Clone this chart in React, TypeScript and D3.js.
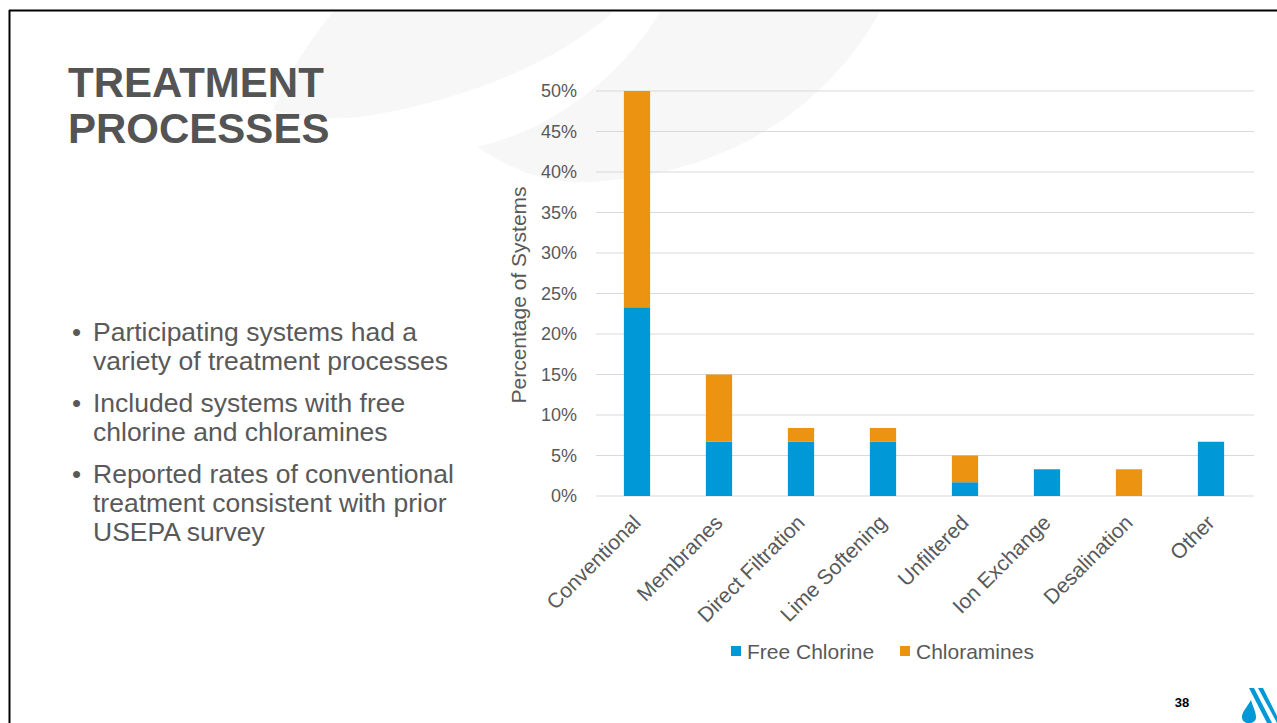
import React from "react";
import * as d3 from "d3";

const categories = [
  "Conventional",
  "Membranes",
  "Direct Filtration",
  "Lime Softening",
  "Unfiltered",
  "Ion Exchange",
  "Desalination",
  "Other",
];
const freeChlorine = [23.3, 6.7, 6.7, 6.7, 1.7, 3.3, 0, 6.7];
const chloramines = [26.7, 8.3, 1.7, 1.7, 3.3, 0, 3.3, 0];
const yTicks = [0, 5, 10, 15, 20, 25, 30, 35, 40, 45, 50];
const seriesNames = ["Free Chlorine", "Chloramines"];
const bullets = [
  ["Participating systems had a", "variety of treatment processes"],
  ["Included systems with free", "chlorine and chloramines"],
  ["Reported rates of conventional", "treatment consistent with prior", "USEPA survey"],
];

const BLUE = "#0098D6";
const ORANGE = "#EC9412";
const TEXT = "#595959";
const FONT = "'Liberation Sans', Arial, sans-serif";

export default function App() {
  const W = 1277;
  const H = 723;
  const x = d3
    .scaleBand<string>()
    .domain(categories)
    .range([596, 1252])
    .paddingInner(0.68)
    .paddingOuter(0.34);
  const y = d3.scaleLinear().domain([0, 50]).range([496, 91]);

  const rows = categories.map((c, i) => ({
    cat: c,
    free: freeChlorine[i],
    chlor: chloramines[i],
  }));
  const stack = d3.stack<any>().keys(["free", "chlor"])(rows);
  const colors = [BLUE, ORANGE];

  const bulletLines: { text: string; y: number; first: boolean }[] = [];
  let yy = 341;
  bullets.forEach((b) => {
    b.forEach((t, j) => {
      bulletLines.push({ text: t, y: yy, first: j === 0 });
      yy += 29;
    });
    yy += 13;
  });

  return (
    <svg
      width={W}
      height={H}
      style={{ position: "absolute", left: 0, top: 0, display: "block" }}
      fontFamily={FONT}
    >
      <rect x={0} y={0} width={W} height={H} fill="#ffffff" />
      {/* background swoosh */}
      <path
        d="M333,12 L613,12 C560,60 470,100 360,117 C330,120 300,118 273,110 C290,70 310,40 333,12 Z"
        fill="#f7f7f7"
      />
      <path
        d="M660,12 L880,12 C830,100 740,172 593,182 C540,185 505,165 477,147 C560,128 625,70 660,12 Z"
        fill="#f7f7f7"
      />
      {/* slide frame */}
      <line x1={9} y1={10.5} x2={W} y2={10.5} stroke="#000" strokeWidth={2} />
      <line x1={9.5} y1={10} x2={9.5} y2={H} stroke="#000" strokeWidth={2} />

      {/* title */}
      <text x={68} y={97} fontSize={42} fontWeight="bold" fill="#545454">
        TREATMENT
      </text>
      <text x={68} y={143} fontSize={42} fontWeight="bold" fill="#545454">
        PROCESSES
      </text>

      {/* bullets */}
      {bulletLines.map((l, i) => (
        <g key={i}>
          {l.first && (
            <text x={72} y={l.y} fontSize={26} fill={TEXT}>
              •
            </text>
          )}
          <text x={93} y={l.y} fontSize={26.5} fill={TEXT}>
            {l.text}
          </text>
        </g>
      ))}

      {/* gridlines */}
      {yTicks.map((t) => (
        <g key={t}>
          <line
            x1={596}
            x2={1254}
            y1={y(t)}
            y2={y(t)}
            stroke="#d9d9d9"
            strokeWidth={1}
          />
          <text
            x={577}
            y={y(t)}
            dy="0.35em"
            textAnchor="end"
            fontSize={18}
            fill={TEXT}
          >
            {t}%
          </text>
        </g>
      ))}

      {/* bars */}
      {stack.map((s, si) =>
        s.map((d, i) =>
          d[1] - d[0] > 0 ? (
            <rect
              key={`${si}-${i}`}
              x={x(categories[i])}
              width={x.bandwidth()}
              y={y(d[1])}
              height={y(d[0]) - y(d[1])}
              fill={colors[si]}
            />
          ) : null
        )
      )}

      {/* x labels */}
      {categories.map((c) => {
        const cx = (x(c) as number) + x.bandwidth() / 2 + 5;
        return (
          <text
            key={c}
            transform={`translate(${cx},${524}) rotate(-45)`}
            textAnchor="end"
            fontSize={21}
            fill={TEXT}
          >
            {c}
          </text>
        );
      })}

      {/* y title */}
      <text
        transform="translate(526,295) rotate(-90)"
        textAnchor="middle"
        fontSize={21}
        fill={TEXT}
      >
        Percentage of Systems
      </text>

      {/* legend */}
      {seriesNames.map((n, i) => {
        const lx = i === 0 ? 731 : 900;
        return (
          <g key={n}>
            <rect x={lx} y={646} width={10} height={10} fill={colors[i]} />
            <text x={lx + 16} y={659} fontSize={21} fill={TEXT}>
              {n}
            </text>
          </g>
        );
      })}

      {/* page number */}
      <text x={1182} y={707} textAnchor="middle" fontSize={13} fontWeight="bold" fill="#000">
        38
      </text>

      {/* logo */}
      <path
        d="M1251,700 C1247,707 1242,712 1242,717 C1242,721 1245,723 1249,723 C1253,723 1256,721 1256,717 C1256,712 1253,707 1251,700 Z"
        fill={BLUE}
      />
      <path d="M1249,688 L1254,688 L1272,723 L1267,723 Z" fill={BLUE} />
      <path d="M1258,688 L1263,688 L1277,716 L1277,723 Z" fill={BLUE} />
    </svg>
  );
}
